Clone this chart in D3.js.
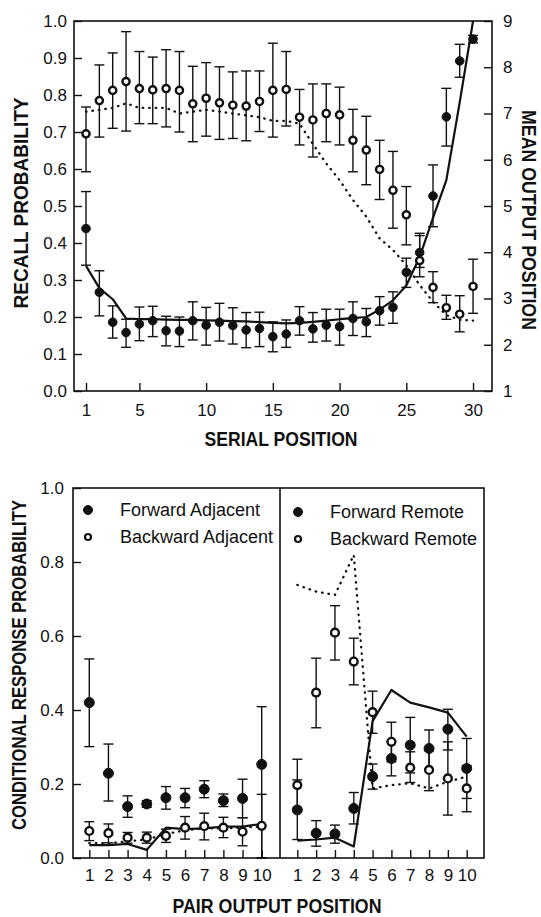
<!DOCTYPE html>
<html>
<head>
<meta charset="utf-8">
<script src="https://cdn.jsdelivr.net/npm/d3@7"></script>
<style>
body { margin: 0; background: #fff; }
svg { display: block; font-family: "Liberation Sans", Arial, sans-serif; }
.axis text { font-size: 17px; fill: #111; }
.axis line { stroke: #111; stroke-width: 1.4; }
.title { font-size: 20px; font-weight: bold; fill: #111; }
.legend { font-size: 18px; fill: #111; }
</style>
</head>
<body>
<svg width="541" height="917"></svg>
<script>
// ---- top panel: serial position curve ----
var serialPos = [1, 2, 3, 4, 5, 6, 7, 8, 9, 10, 11, 12, 13, 14, 15,
                 16, 17, 18, 19, 20, 21, 22, 23, 24, 25, 26, 27, 28, 29, 30];

// recall probability (filled circles, left axis)
var recall   = [0.439, 0.267, 0.186, 0.158, 0.181, 0.190, 0.163, 0.162, 0.190, 0.178, 0.186, 0.177, 0.165, 0.169, 0.147,
                0.154, 0.190, 0.168, 0.178, 0.174, 0.196, 0.187, 0.217, 0.226, 0.321, 0.374, 0.527, 0.741, 0.892, 0.951];
var recallLo = [0.340, 0.203, 0.143, 0.118, 0.136, 0.147, 0.122, 0.120, 0.138, 0.124, 0.135, 0.127, 0.117, 0.120, 0.106,
                0.118, 0.151, 0.132, 0.135, 0.124, 0.150, 0.147, 0.178, 0.183, 0.280, 0.334, 0.444, 0.662, 0.848, 0.941];
var recallHi = [0.539, 0.325, 0.230, 0.194, 0.227, 0.229, 0.202, 0.200, 0.241, 0.226, 0.237, 0.225, 0.212, 0.213, 0.187,
                0.192, 0.228, 0.212, 0.221, 0.221, 0.241, 0.223, 0.255, 0.268, 0.359, 0.420, 0.611, 0.818, 0.937, 0.961];
var recallModel = [0.338, 0.278, 0.248, 0.196, 0.194, 0.194, 0.193, 0.192, 0.192, 0.191, 0.190, 0.189, 0.188, 0.186, 0.184,
                   0.183, 0.184, 0.187, 0.190, 0.194, 0.197, 0.200, 0.220, 0.245, 0.285, 0.362, 0.468, 0.570, 0.780, 1.000];

// mean output position (open circles, right axis)
var outPos   = [6.56, 7.28, 7.50, 7.69, 7.54, 7.51, 7.54, 7.50, 7.21, 7.33, 7.23, 7.18, 7.16, 7.26, 7.50,
                7.52, 6.92, 6.86, 7.00, 6.97, 6.42, 6.21, 5.79, 5.34, 4.81, 3.82, 3.24, 2.80, 2.66, 3.26];
var outPosLo = [5.74, 6.49, 6.68, 6.62, 6.78, 6.78, 6.71, 6.60, 6.39, 6.51, 6.44, 6.46, 6.41, 6.61, 6.49,
                6.73, 6.32, 6.06, 6.39, 6.32, 5.74, 5.46, 5.14, 4.52, 4.16, 3.47, 2.91, 2.55, 2.28, 2.68];
var outPosHi = [7.14, 8.05, 8.31, 8.77, 8.34, 8.22, 8.38, 8.34, 8.02, 8.10, 8.01, 7.90, 7.92, 7.92, 8.52,
                8.34, 7.52, 7.64, 7.64, 7.57, 7.09, 6.94, 6.42, 6.18, 5.42, 4.41, 3.58, 3.07, 3.06, 3.85];
var outPosModel = [7.04, 7.08, 7.12, 7.22, 7.12, 7.12, 7.12, 7.00, 7.04, 7.08, 7.04, 7.00, 6.96, 6.92, 6.84,
                   6.84, 6.78, 6.34, 5.92, 5.56, 5.13, 4.77, 4.30, 4.05, 3.72, 3.29, 2.93, 2.64, 2.54, 2.52];

// ---- bottom panel: lag CRP by pair output position ----
var pairPos = [1, 2, 3, 4, 5, 6, 7, 8, 9, 10];

var fwdAdj   = [0.420, 0.229, 0.139, 0.146, 0.163, 0.163, 0.186, 0.155, 0.161, 0.253];
var fwdAdjLo = [0.301, 0.154, 0.110, 0.137, 0.132, 0.136, 0.163, 0.139, 0.109, 0.000];
var fwdAdjHi = [0.538, 0.308, 0.168, 0.155, 0.193, 0.188, 0.209, 0.173, 0.213, 0.409];
var bwdAdj   = [0.073, 0.067, 0.055, 0.055, 0.060, 0.082, 0.086, 0.082, 0.071, 0.087];
var bwdAdjLo = [0.047, 0.041, 0.040, 0.040, 0.042, 0.051, 0.049, 0.055, 0.033, 0.000];
var bwdAdjHi = [0.098, 0.092, 0.069, 0.070, 0.078, 0.112, 0.121, 0.110, 0.109, 0.172];
var fwdAdjModel = [0.035, 0.035, 0.038, 0.022, 0.082, 0.078, 0.080, 0.085, 0.085, 0.092];
var bwdAdjModel = [0.040, 0.040, 0.045, 0.050, 0.065, 0.075, 0.080, 0.080, 0.082, 0.085];

var fwdRem   = [0.130, 0.067, 0.065, 0.134, 0.220, 0.269, 0.305, 0.296, 0.348, 0.242];
var fwdRemLo = [0.050, 0.032, 0.040, 0.092, 0.186, 0.222, 0.230, 0.240, 0.292, 0.161];
var fwdRemHi = [0.211, 0.101, 0.089, 0.177, 0.254, 0.315, 0.380, 0.346, 0.402, 0.323];
var bwdRem   = [0.197, 0.447, 0.609, 0.531, 0.394, 0.314, 0.244, 0.238, 0.215, 0.188];
var bwdRemLo = [0.130, 0.352, 0.535, 0.468, 0.337, 0.260, 0.204, 0.182, 0.116, 0.125];
var bwdRemHi = [0.267, 0.540, 0.682, 0.594, 0.451, 0.367, 0.287, 0.290, 0.314, 0.250];
var fwdRemModel = [0.047, 0.050, 0.055, 0.031, 0.370, 0.454, 0.420, 0.407, 0.393, 0.328];
var bwdRemModel = [0.738, 0.720, 0.711, 0.819, 0.188, 0.197, 0.202, 0.188, 0.206, 0.220];

var topXTicks = [1, 5, 10, 15, 20, 25, 30];
var topLeftTicks = [0, 0.1, 0.2, 0.3, 0.4, 0.5, 0.6, 0.7, 0.8, 0.9, 1.0];
var topRightTicks = [1, 2, 3, 4, 5, 6, 7, 8, 9];
var botYTicks = [0, 0.2, 0.4, 0.6, 0.8, 1.0];

var svg = d3.select("svg");

// scales
var x1 = d3.scaleLinear().domain([0.1, 31.42]).range([74, 492]);
var yL = d3.scaleLinear().domain([0, 1]).range([391, 21]);
var yR = d3.scaleLinear().domain([1, 9]).range([391, 21]);

var xA = d3.scaleLinear().domain([0.15, 10.955]).range([73, 280]);
var xB = d3.scaleLinear().domain([0.08, 10.92]).range([280, 484]);
var y2 = d3.scaleLinear().domain([0, 1]).range([858, 488]);

function errorBars(g, x, y, xs, lo, hi, cap) {
    var e = g.append("g").attr("stroke", "#111").attr("stroke-width", 1.4);
    xs.forEach(function (d, i) {
        e.append("line").attr("x1", x(d)).attr("x2", x(d)).attr("y1", y(lo[i])).attr("y2", y(hi[i]));
        e.append("line").attr("x1", x(d) - cap).attr("x2", x(d) + cap).attr("y1", y(lo[i])).attr("y2", y(lo[i]));
        e.append("line").attr("x1", x(d) - cap).attr("x2", x(d) + cap).attr("y1", y(hi[i])).attr("y2", y(hi[i]));
    });
}

function modelLine(g, x, y, xs, vals, dotted) {
    var line = d3.line()
        .x(function (d, i) { return x(xs[i]); })
        .y(function (d) { return y(d); });
    g.append("path")
        .datum(vals)
        .attr("d", line)
        .attr("fill", "none")
        .attr("stroke", "#111")
        .attr("stroke-width", dotted ? 2.3 : 2.2)
        .attr("stroke-linecap", dotted ? "round" : "butt")
        .attr("stroke-linejoin", "round")
        .attr("stroke-dasharray", dotted ? "0.5,6" : null);
}

function points(g, x, y, xs, vals, filled, r) {
    g.append("g").selectAll("circle")
        .data(vals)
        .enter().append("circle")
        .attr("cx", function (d, i) { return x(xs[i]); })
        .attr("cy", function (d) { return y(d); })
        .attr("r", r)
        .attr("fill", filled ? "#111" : "#fff")
        .attr("stroke", "#111")
        .attr("stroke-width", filled ? 1 : 2.4);
}

function title(txt, cx, cy, rot, len) {
    svg.append("text")
        .attr("class", "title")
        .attr("text-anchor", "middle")
        .attr("dominant-baseline", "central")
        .attr("transform", "translate(" + cx + "," + cy + ") rotate(" + rot + ")")
        .attr("textLength", len)
        .attr("lengthAdjust", "spacingAndGlyphs")
        .text(txt);
}

// ================= top chart =================
var topG = svg.append("g");

topG.append("g").attr("class", "axis")
    .attr("transform", "translate(0,391)")
    .call(d3.axisBottom(x1).tickValues(topXTicks).tickSize(-8).tickPadding(13).tickFormat(d3.format("d")))
    .call(function (g) { g.select(".domain").remove(); });

topG.append("g").attr("class", "axis")
    .attr("transform", "translate(74,0)")
    .call(d3.axisLeft(yL).tickValues(topLeftTicks).tickSize(-8).tickPadding(7).tickFormat(d3.format(".1f")))
    .call(function (g) { g.select(".domain").remove(); });

topG.append("g").attr("class", "axis")
    .attr("transform", "translate(492,0)")
    .call(d3.axisRight(yR).tickValues(topRightTicks).tickSize(-8).tickPadding(11).tickFormat(d3.format("d")))
    .call(function (g) { g.select(".domain").remove(); });

topG.append("rect")
    .attr("x", 74).attr("y", 21).attr("width", 418).attr("height", 370)
    .attr("fill", "none").attr("stroke", "#111").attr("stroke-width", 1.6);

errorBars(topG, x1, yR, serialPos, outPosLo, outPosHi, 5);
errorBars(topG, x1, yL, serialPos, recallLo, recallHi, 5);
modelLine(topG, x1, yR, serialPos, outPosModel, true);
modelLine(topG, x1, yL, serialPos, recallModel, false);
points(topG, x1, yR, serialPos, outPos, false, 3.6);
points(topG, x1, yL, serialPos, recall, true, 4.3);

title("RECALL PROBABILITY", 21, 203, -90, 211);
title("MEAN OUTPUT POSITION", 529, 220, 90, 220);
title("SERIAL POSITION", 281, 439, 0, 153);

// ================= bottom chart =================
var botG = svg.append("g");

botG.append("g").attr("class", "axis")
    .attr("transform", "translate(73,0)")
    .call(d3.axisLeft(y2).tickValues(botYTicks).tickSize(-8).tickPadding(9).tickFormat(d3.format(".1f")))
    .call(function (g) { g.select(".domain").remove(); });

[xA, xB].forEach(function (sx) {
    botG.append("g").attr("class", "axis")
        .attr("transform", "translate(0,858)")
        .call(d3.axisBottom(sx).tickValues(pairPos).tickSize(-8).tickPadding(11).tickFormat(d3.format("d")))
        .call(function (g) { g.select(".domain").remove(); });
});

botG.append("rect")
    .attr("x", 73).attr("y", 488).attr("width", 411).attr("height", 370)
    .attr("fill", "none").attr("stroke", "#111").attr("stroke-width", 1.6);
botG.append("line")
    .attr("x1", 280).attr("x2", 280).attr("y1", 488).attr("y2", 858)
    .attr("stroke", "#111").attr("stroke-width", 1.6);

// adjacent panel
errorBars(botG, xA, y2, pairPos, fwdAdjLo, fwdAdjHi, 5);
errorBars(botG, xA, y2, pairPos, bwdAdjLo, bwdAdjHi, 5);
modelLine(botG, xA, y2, pairPos, bwdAdjModel, true);
modelLine(botG, xA, y2, pairPos, fwdAdjModel, false);
points(botG, xA, y2, pairPos, bwdAdj, false, 3.9);
points(botG, xA, y2, pairPos, fwdAdj, true, 5);

// remote panel
errorBars(botG, xB, y2, pairPos, fwdRemLo, fwdRemHi, 5);
errorBars(botG, xB, y2, pairPos, bwdRemLo, bwdRemHi, 5);
modelLine(botG, xB, y2, pairPos, bwdRemModel, true);
modelLine(botG, xB, y2, pairPos, fwdRemModel, false);
points(botG, xB, y2, pairPos, bwdRem, false, 3.9);
points(botG, xB, y2, pairPos, fwdRem, true, 5);

// legends
var legendItems = [
    {x: 88, y: 510, filled: true, label: "Forward Adjacent"},
    {x: 88, y: 537, filled: false, label: "Backward Adjacent"},
    {x: 298, y: 512, filled: true, label: "Forward Remote"},
    {x: 298, y: 539, filled: false, label: "Backward Remote"}
];
var leg = botG.append("g").selectAll("g").data(legendItems).enter().append("g");
leg.append("circle")
    .attr("cx", function (d) { return d.x; })
    .attr("cy", function (d) { return d.y; })
    .attr("r", function (d) { return d.filled ? 4.5 : 3; })
    .attr("fill", function (d) { return d.filled ? "#111" : "#fff"; })
    .attr("stroke", "#111")
    .attr("stroke-width", function (d) { return d.filled ? 1 : 2.2; });
leg.append("text")
    .attr("class", "legend")
    .attr("x", function (d) { return d.x + 32; })
    .attr("y", function (d) { return d.y; })
    .attr("dominant-baseline", "central")
    .text(function (d) { return d.label; });

title("CONDITIONAL RESPONSE PROBABILITY", 19, 665, -90, 330);
title("PAIR OUTPUT POSITION", 277, 906, 0, 209);
</script>
</body>
</html>
